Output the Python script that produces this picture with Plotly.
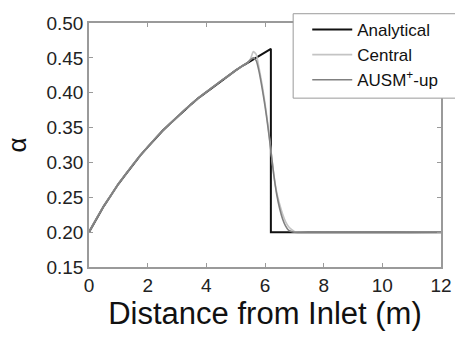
import plotly.graph_objects as go

# Analytical solution
x_analytical = [0, 0.25, 0.5, 0.75, 1.0, 1.25, 1.5, 1.75, 2.0, 2.25, 2.5, 2.75, 3.0,
                3.25, 3.5, 3.75, 4.0, 4.25, 4.5, 4.75, 5.0, 5.25, 5.5, 5.75, 6.0,
                6.2, 6.2, 12]
a_analytical = [0.200, 0.219, 0.237, 0.253, 0.269, 0.283, 0.297, 0.310, 0.322, 0.334,
                0.345, 0.355, 0.365, 0.375, 0.384, 0.393, 0.401, 0.409, 0.417, 0.424,
                0.432, 0.439, 0.445, 0.452, 0.458, 0.463, 0.200, 0.200]

# Central scheme
x_central = [0, 0.25, 0.5, 0.75, 1.0, 1.25, 1.5, 1.75, 2.0, 2.25, 2.5, 2.75, 3.0,
             3.25, 3.5, 3.75, 4.0, 4.25, 4.5, 4.75, 5.0, 5.25,
             5.4, 5.5, 5.6, 5.7, 5.8, 5.9, 6.0, 6.1, 6.2, 6.3, 6.4, 6.5, 6.6,
             6.7, 6.8, 6.9, 7.0, 7.2, 12]
a_central = [0.200, 0.219, 0.237, 0.253, 0.269, 0.283, 0.297, 0.310, 0.322, 0.334,
             0.345, 0.355, 0.365, 0.375, 0.384, 0.393, 0.401, 0.409, 0.417, 0.424,
             0.432, 0.439,
             0.443, 0.448, 0.459, 0.455, 0.435, 0.412, 0.385, 0.354, 0.318, 0.283,
             0.257, 0.240, 0.226, 0.215, 0.208, 0.204, 0.201, 0.200, 0.200]

# AUSM+-up scheme
x_ausm = [0, 0.25, 0.5, 0.75, 1.0, 1.25, 1.5, 1.75, 2.0, 2.25, 2.5, 2.75, 3.0,
          3.25, 3.5, 3.75, 4.0, 4.25, 4.5, 4.75, 5.0, 5.25,
          5.4, 5.5, 5.6, 5.7, 5.8, 5.9, 6.0, 6.1, 6.2, 6.3, 6.4, 6.5, 6.6,
          6.7, 6.8, 6.9, 7.0, 12]
a_ausm = [0.200, 0.219, 0.237, 0.253, 0.269, 0.283, 0.297, 0.310, 0.322, 0.334,
          0.345, 0.355, 0.365, 0.375, 0.384, 0.393, 0.401, 0.409, 0.417, 0.424,
          0.432, 0.439,
          0.443, 0.447, 0.450, 0.446, 0.430, 0.407, 0.381, 0.351, 0.317, 0.282,
          0.254, 0.234, 0.219, 0.209, 0.203, 0.201, 0.200, 0.200]

x_ticks = [0, 2, 4, 6, 8, 10, 12]
y_ticks = [0.15, 0.20, 0.25, 0.30, 0.35, 0.40, 0.45, 0.50]

FONT = "Arial, Liberation Sans, sans-serif"

fig = go.Figure()
fig.add_trace(go.Scatter(x=x_analytical, y=a_analytical, mode="lines", name="Analytical",
                         line=dict(color="#111111", width=2)))
fig.add_trace(go.Scatter(x=x_central, y=a_central, mode="lines", name="Central",
                         line=dict(color="#c4c4c4", width=1.6, shape="spline", smoothing=0.5)))
fig.add_trace(go.Scatter(x=x_ausm, y=a_ausm, mode="lines", name="AUSM<sup>+</sup>-up",
                         line=dict(color="#808080", width=1.6, shape="spline", smoothing=0.5)))

# legend frame (extends past the right edge as in the reference)
fig.add_shape(type="rect", xref="paper", yref="paper", x0=0.58, x1=1.2, y0=0.692, y1=1.038,
              line=dict(color="#9a9a9a", width=1), fillcolor="white", layer="above")

axis_common = dict(showline=True, linecolor="#9a9a9a", linewidth=1.5, mirror="ticks",
                   ticks="inside", ticklen=4, tickcolor="#9a9a9a", tickwidth=1,
                   showgrid=False, zeroline=False, automargin=False,
                   tickfont=dict(family=FONT, size=19, color="#222222"))

fig.update_xaxes(range=[0, 12], tickvals=x_ticks, ticktext=[str(v) for v in x_ticks],
                 title=dict(text="Distance from Inlet (m)", font=dict(family=FONT, size=31, color="#111111"),
                            standoff=6),
                 **axis_common)
fig.update_yaxes(range=[0.15, 0.50], tickvals=y_ticks, ticktext=[f"{v:.2f}" for v in y_ticks],
                 title=dict(text="α", font=dict(family=FONT, size=26, color="#111111"), standoff=12),
                 **axis_common)

fig.update_layout(
    width=455, height=338,
    margin=dict(l=89, r=14, t=23, b=71, autoexpand=False),
    paper_bgcolor="white", plot_bgcolor="white",
    showlegend=True,
    legend=dict(x=0.62, y=1.045, xanchor="left", yanchor="top", bgcolor="rgba(0,0,0,0)",
                borderwidth=0, font=dict(family=FONT, size=17, color="#111111"),
                tracegroupgap=0, itemwidth=40),
)

fig.write_html("out.html", config={"displayModeBar": False},
               post_script="document.body.style.margin='0';")
